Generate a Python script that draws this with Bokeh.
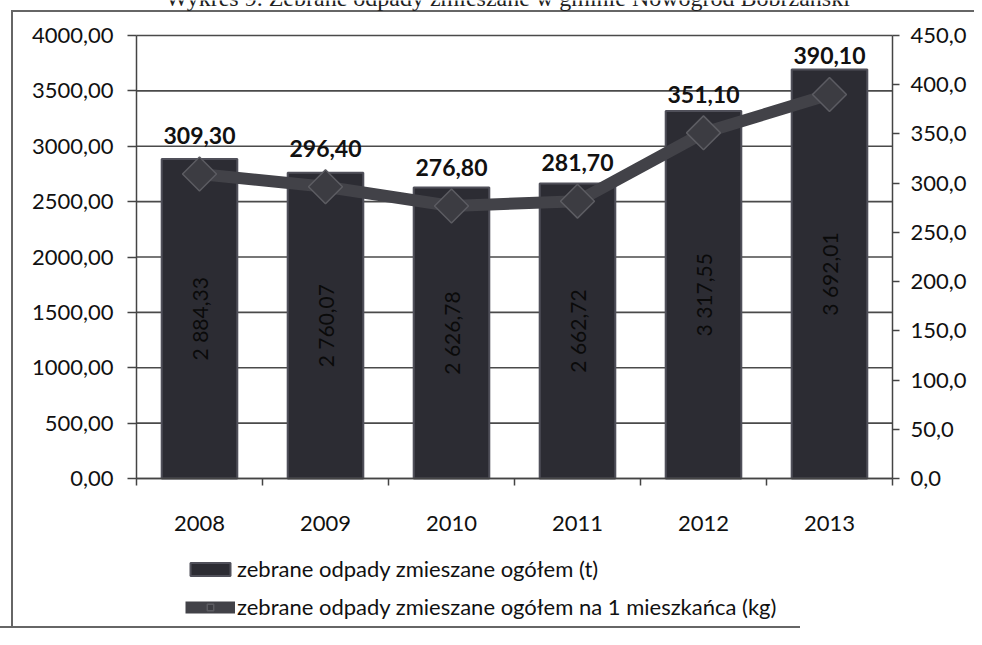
import math
from bokeh.plotting import figure
from bokeh.models import (LinearAxis, Range1d, FixedTicker, Legend, LegendItem,
                          Label, ColumnDataSource)
from bokeh.core.properties import value
from bokeh.embed import file_html
from bokeh.resources import INLINE

# ---- data ----
years = ["2008", "2009", "2010", "2011", "2012", "2013"]
total_t = [2884.33, 2760.07, 2626.78, 2662.72, 3317.55, 3692.01]
per_capita_kg = [309.30, 296.40, 276.80, 281.70, 351.10, 390.10]
left_ticks = [0, 500, 1000, 1500, 2000, 2500, 3000, 3500, 4000]
right_ticks = [0, 50, 100, 150, 200, 250, 300, 350, 400, 450]
series_bar = "zebrane odpady zmieszane ogółem (t)"
series_line = "zebrane odpady zmieszane ogółem na 1 mieszkańca (kg)"
title_text = "Wykres 9. Zebrane odpady zmieszane w gminie Nowogród Bobrzański"

FONT = "Lato"
TXT = "#111111"
AX = "#444444"


def pl(v, d, sep=False):
    s = f"{v:,.{d}f}" if sep else f"{v:.{d}f}"
    return s.replace(",", " ").replace(".", ",")


n = len(years)
xs = [i + 1 for i in range(n)]
x_lo, x_hi = 0.5, n + 0.5
l_max, r_max = left_ticks[-1], right_ticks[-1]

src = ColumnDataSource(dict(
    x=xs,
    total=total_t,
    half=[v / 2 for v in total_t],
    per=per_capita_kg,
    total_lbl=[pl(v, 2, True) for v in total_t],
    per_lbl=[pl(v, 2) for v in per_capita_kg],
))

# canvas and plot-area geometry (pixels); the whole canvas is the frame,
# axes are pinned inside it so that nothing outside the plot area is clipped
W, H = 974, 629
PL, PR, PT, PB = 136, 892, 35, 478
ppx = (PR - PL) / n
lpp = l_max / (PB - PT)
rpp = r_max / (PB - PT)
x_range = Range1d(x_lo - PL / ppx, x_hi + (W - PR) / ppx)
y_range = Range1d(-(H - PB) * lpp, l_max + PT * lpp)

p = figure(width=W, height=H, output_backend="svg", toolbar_location=None,
           title=None, x_range=x_range, y_range=y_range,
           min_border=0, min_border_left=0, min_border_right=0,
           min_border_top=0, min_border_bottom=0)
p.extra_y_ranges = {"right": Range1d(-(H - PB) * rpp, r_max + PT * rpp)}
p.outline_line_color = None
p.background_fill_color = None
p.border_fill_color = None
p.xgrid.visible = False
p.ygrid.visible = False
# thin frame of the scanned page, drawn as page decoration behind the canvas
p.styles = {
    "background-color": "white",
    "background-image": "linear-gradient(#666,#666), linear-gradient(#666,#666), "
                        "linear-gradient(#666,#666)",
    "background-size": "2px 618px, 970px 2px, 800px 2px",
    "background-position": "11px 10px, 11px 10px, 0px 626px",
    "background-repeat": "no-repeat",
}

# horizontal grid lines between the two axes
p.segment(x0=x_lo, x1=x_hi, y0=left_ticks, y1=left_ticks, line_color="#4a4a4a",
          line_width=1.6, level="underlay")

# bars
bars = p.vbar(x="x", top="total", width=0.6, source=src,
              fill_color="#2c2c33", line_color="#50505a", line_width=2)
p.text(x="x", y="half", text="total_lbl", source=src, angle=math.pi / 2,
       text_align="center", text_baseline="middle", text_color="#0a0a0a",
       text_font=value(FONT), text_font_size="21px")

# line
line = p.line(x="x", y="per", source=src, y_range_name="right",
              line_color="#424248", line_width=12)
marks = p.scatter(x="x", y="per", source=src, y_range_name="right",
                  marker="square", angle=math.pi / 4, size=24,
                  fill_color="#3c3c42", line_color="#5c5c62", line_width=1.5)
p.text(x="x", y="per", text="per_lbl", source=src, y_range_name="right",
       y_offset=-30, text_align="center", text_baseline="bottom",
       text_color=TXT, text_font=value(FONT), text_font_size="23px",
       text_font_style="bold")


def style_axis(a, tick_out):
    a.major_tick_out = tick_out
    a.major_tick_in = 0
    a.minor_tick_line_color = None
    a.axis_line_color = AX
    a.axis_line_width = 1.5
    a.major_tick_line_color = AX
    a.major_tick_line_width = 1.5
    a.major_label_text_font = FONT
    a.major_label_text_font_size = "22px"
    a.major_label_text_color = TXT


# left axis
ya = p.yaxis[0]
ya.ticker = FixedTicker(ticks=left_ticks)
ya.major_label_overrides = {t: pl(t, 2) for t in left_ticks}
ya.fixed_location = x_lo
ya.bounds = (0, l_max)
style_axis(ya, 9)
ya.major_label_standoff = 14

# right axis
ra = LinearAxis(y_range_name="right", ticker=FixedTicker(ticks=right_ticks))
ra.major_label_overrides = {t: pl(t, 1) for t in right_ticks}
ra.fixed_location = x_hi
ra.bounds = (0, r_max)
style_axis(ra, 7)
ra.major_label_standoff = 11
p.add_layout(ra, "right")

# x axis
xa = p.xaxis[0]
xa.ticker = FixedTicker(ticks=xs, minor_ticks=[x - 0.5 for x in xs] + [xs[-1] + 0.5])
xa.major_label_overrides = {x: y for x, y in zip(xs, years)}
xa.fixed_location = 0
xa.bounds = (x_lo, x_hi)
style_axis(xa, 0)
xa.major_tick_line_color = None
xa.minor_tick_out = 7
xa.minor_tick_in = 0
xa.minor_tick_line_color = AX
xa.minor_tick_line_width = 1.5
xa.major_label_standoff = 30

# legend under the x axis
legend = Legend(items=[LegendItem(label=series_bar, renderers=[bars]),
                       LegendItem(label=series_line, renderers=[line, marks])],
                location=(185, 9), orientation="vertical",
                background_fill_alpha=0, border_line_color=None,
                glyph_width=50, glyph_height=16, label_standoff=2,
                label_height=26, spacing=11, padding=0, margin=0,
                label_text_font=FONT, label_text_font_size="22px",
                label_text_color=TXT)
p.add_layout(legend)

# title line of the scanned page, cut off at the top edge as in the scan
p.add_layout(Label(x=165, y=H + 3, x_units="screen", y_units="screen",
                   text=title_text, text_font="Liberation Serif",
                   text_font_size="24px", text_color="#222222",
                   text_baseline="alphabetic"))

open("out.html", "w").write(file_html(p, INLINE))
